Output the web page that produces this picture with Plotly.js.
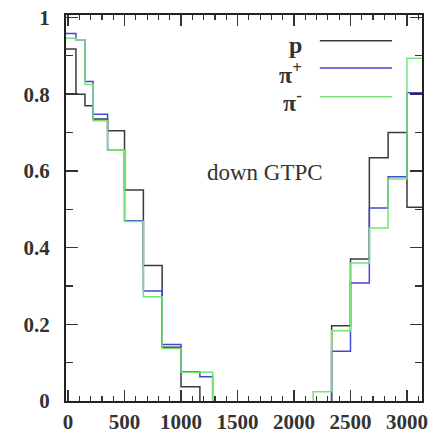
<!DOCTYPE html>
<html>
<head>
<meta charset="utf-8">
<script src="https://cdn.plot.ly/plotly-3.0.1.min.js"></script>
<style>html,body{margin:0;padding:0;background:#fff;}#chart{width:434px;height:433px;}</style>
</head>
<body>
<div id="chart"></div>
<script>
// bin edges (x) and per-bin fractions
const binEdges = [-18, 70, 150, 222, 350, 500, 667, 833, 1000, 1167, 1280, 2170, 2333, 2500, 2667, 2833, 3000, 3135];
const protonVals = [0.918, 0.80, 0.77, 0.735, 0.705, 0.55, 0.353, 0.14, 0.037, 0, 0, 0, 0.196, 0.37, 0.634, 0.70, 0.505];
const piPlusVals = [0.958, 0.942, 0.833, 0.748, 0.654, 0.47, 0.287, 0.147, 0.076, 0.063, 0, 0, 0.13, 0.308, 0.503, 0.585, 0.804];
const piMinusVals = [0.946, 0.942, 0.825, 0.731, 0.654, 0.468, 0.272, 0.137, 0.075, 0.075, 0, 0.024, 0.183, 0.36, 0.451, 0.579, 0.894];
const seriesNames = ['p', 'π<sup>+</sup>', 'π<sup>-</sup>'];
const seriesColors = ['#3a3a3a', '#4646d8', '#74e474'];
const xTickVals = [0, 500, 1000, 1500, 2000, 2500, 3000];
const yTickVals = [0, 0.2, 0.4, 0.6, 0.8, 1];
const yTickText = ['0', '0.2', '0.4', '0.6', '0.8', '1'];

const SERIF = 'Liberation Serif';

// Step outline built from the bins; empty bins leave a gap (no line on the axis)
function stepTrace(vals, color) {
  const x = [], y = [];
  for (let i = 0; i < vals.length; i++) {
    const v = vals[i];
    if (v > 0) {
      if (i > 0 && vals[i - 1] === 0) { x.push(binEdges[i]); y.push(0); }
      x.push(binEdges[i], binEdges[i + 1]); y.push(v, v);
    } else {
      if (i > 0 && vals[i - 1] > 0) { x.push(binEdges[i]); y.push(0); }
      x.push(null); y.push(null);
    }
  }
  return {x: x, y: y, type: 'scatter', mode: 'lines', connectgaps: false,
          line: {color: color, width: 1.5}, showlegend: false, hoverinfo: 'skip'};
}
const data = [
  stepTrace(protonVals, seriesColors[0]),
  stepTrace(piPlusVals, seriesColors[1]),
  stepTrace(piMinusVals, seriesColors[2])
];

const tickFont = {family: SERIF, size: 21, color: '#333', weight: 'bold'};
const legY = [0.933, 0.863, 0.788];
const shapes = [], annotations = [];
seriesNames.forEach((n, i) => {
  shapes.push({type: 'line', xref: 'paper', yref: 'paper', x0: 0.713, x1: 0.916, y0: legY[i], y1: legY[i],
               line: {color: seriesColors[i], width: 1.5}});
  annotations.push({xref: 'paper', yref: 'paper', x: 0.668, y: legY[i] - 0.012, xanchor: 'right', yanchor: 'middle',
                    text: n, showarrow: false,
                    font: {family: SERIF, size: 24, color: '#333', weight: 'bold'}});
});
annotations.push({xref: 'paper', yref: 'paper', x: 0.559, y: 0.593, xanchor: 'center', yanchor: 'middle',
                  text: 'down GTPC', showarrow: false,
                  font: {family: SERIF, size: 23, color: '#333'}});

const layout = {
  width: 434, height: 433,
  margin: {l: 66, r: 12, t: 15, b: 32, pad: 0},
  paper_bgcolor: '#fff', plot_bgcolor: '#fff',
  showlegend: false,
  xaxis: {range: [-18, 3133], tickvals: xTickVals, ticks: 'inside', ticklen: 11, tickwidth: 1.5,
          tickcolor: '#333', showline: true, linecolor: '#222', linewidth: 2, mirror: 'allticks',
          showgrid: false, zeroline: false, tickfont: tickFont, ticklabelstandoff: 1,
          minor: {dtick: 100, ticks: 'inside', ticklen: 5, tickwidth: 1.2, tickcolor: '#333', showgrid: false}},
  yaxis: {range: [0, 1.0065], tickvals: yTickVals, ticktext: yTickText, ticks: 'inside', ticklen: 12, tickwidth: 1.5,
          tickcolor: '#333', showline: true, linecolor: '#222', linewidth: 2, mirror: 'allticks',
          showgrid: false, zeroline: false, tickfont: tickFont, ticklabelstandoff: 10,
          minor: {dtick: 0.1, ticks: 'inside', ticklen: 7, tickwidth: 1.2, tickcolor: '#333', showgrid: false}},
  shapes: shapes,
  annotations: annotations
};
Plotly.newPlot('chart', data, layout, {displayModeBar: false, staticPlot: true});
</script>
</body>
</html>
